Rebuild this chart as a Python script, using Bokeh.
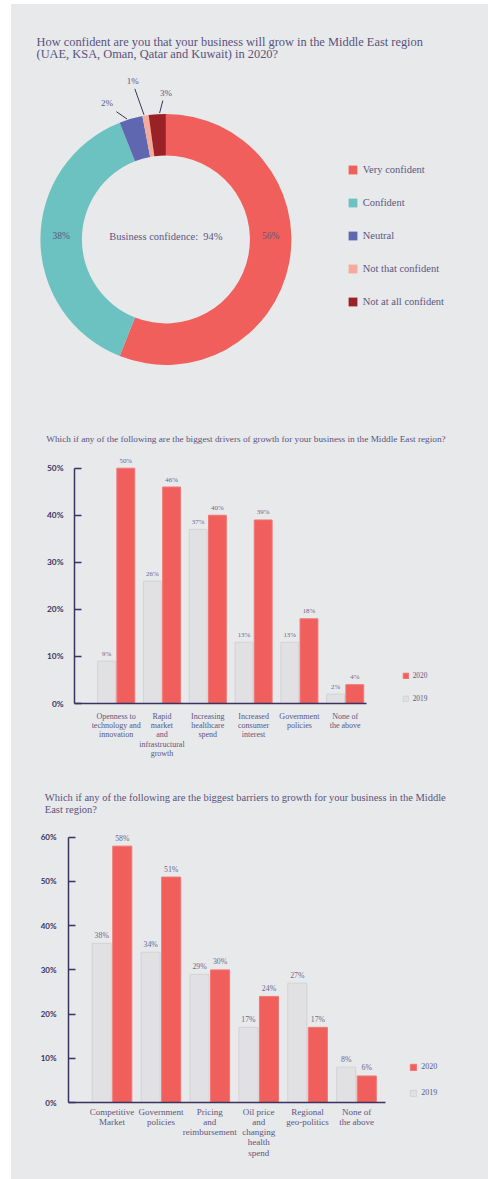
import numpy as np
from bokeh.plotting import figure
from bokeh.models import (Range1d, FixedTicker, PrintfTickFormatter, Title, Legend,
                          LegendItem, ColumnDataSource)
from bokeh.layouts import column
from bokeh.embed import file_html
from bokeh.resources import INLINE
from bokeh.core.properties import value

# ---------------- data ----------------
CONF_TITLE = ["How confident are you that your business will grow in the Middle East region",
              "(UAE, KSA, Oman, Qatar and Kuwait) in 2020?"]
CONF_CATS = ["Very confident", "Confident", "Neutral", "Not that confident", "Not at all confident"]
CONF_VALUES = [56, 38, 3, 0.8, 2.2]
CONF_LABELS = ["56%", "38%", "2%", "1%", "3%"]
CONF_CENTER_TEXT = "Business confidence:\u00a0\u00a094%"

DRIVER_TITLE = ("Which if any of the following are the biggest drivers of growth for your "
                "business in the Middle East region?")
DRIVER_CATS = ["Openness to\ntechnology and\ninnovation",
               "Rapid\nmarket\nand\ninfrastructural\ngrowth",
               "Increasing\nhealthcare\nspend",
               "Increased\nconsumer\ninterest",
               "Government\npolicies",
               "None of\nthe above"]
DRIVER_2019 = [9, 26, 37, 13, 13, 2]
DRIVER_2020 = [50, 46, 40, 39, 18, 4]
DRIVER_TICKS = [0, 10, 20, 30, 40, 50]

BARRIER_TITLE = ("Which if any of the following are the biggest barriers to growth for your business in the Middle\n"
                 "East region?")
BARRIER_CATS = ["Competitive\nMarket",
                "Government\npolicies",
                "Pricing\nand\nreimbursement",
                "Oil price\nand\nchanging\nhealth\nspend",
                "Regional\ngeo-politics",
                "None of\nthe above"]
BARRIER_2019 = [36, 34, 29, 17, 27, 8]
BARRIER_2019_LABELS = ["38%", "34%", "29%", "17%", "27%", "8%"]
BARRIER_2020 = [58, 51, 30, 24, 17, 6]
BARRIER_TICKS = [0, 10, 20, 30, 40, 50, 60]

SERIES = ["2019", "2020"]

# ---------------- style ----------------
BG = "#e8e9eb"
TITLE_C = "#58527d"
NAVY = "#3a3360"
TXT = "#5c567f"
VAL_C = "#6d688c"
RED = "#f05f5c"
RED_LINE = "#f17774"
GRAY_BAR = "#e1e1e3"
GRAY_LINE = "#d3d3d7"
CONF_COLORS = ["#f05f5c", "#6bc2c1", "#5f67b1", "#f5aa9c", "#9a2226"]
SERIF = "Liberation Serif"
SANS = "Lato"
W = 477


def base_fig(h, xr, yr, **kw):
    p = figure(width=W, height=h, x_range=xr, y_range=yr, output_backend="svg",
               toolbar_location=None, **kw)
    p.background_fill_color = BG
    p.border_fill_color = BG
    p.outline_line_color = None
    p.grid.visible = False
    if "frame_align" in p.properties():
        p.frame_align = False
    return p


# ================= donut =================
H1 = 396
p1 = base_fig(H1, Range1d(11, 488), Range1d(-400, -4), min_border=0,
              x_axis_location=None, y_axis_location=None)
cx, cy = 165.4, -238.9
r_in, r_out = 84.0, 125.5

vals = np.array(CONF_VALUES, dtype=float)
frac = vals / vals.sum()
cum = np.concatenate([[0.0], np.cumsum(frac)])
start = np.pi / 2 - 2 * np.pi * cum[:-1]
end = np.pi / 2 - 2 * np.pi * cum[1:]
mid_cw = 2 * np.pi * (cum[:-1] + cum[1:]) / 2  # clockwise from top
dsrc = ColumnDataSource(dict(start=start, end=end, color=CONF_COLORS, cat=CONF_CATS))
wr = p1.annular_wedge(x=cx, y=cy, inner_radius=r_in, outer_radius=r_out,
                      start_angle="start", end_angle="end", direction="clock",
                      fill_color="color", line_color=None, source=dsrc)

p1.text(x=[36, 36], y=[-41.5, -53.3], text=CONF_TITLE, text_font=value(SERIF),
        text_font_size="12.4px", text_color=TITLE_C, text_baseline="middle", text_align="left")
p1.text(x=[cx], y=[cy + 3], text=[CONF_CENTER_TEXT], text_font=value(SERIF),
        text_font_size="10.5px", text_color=TXT, text_baseline="middle", text_align="center")

# big slice labels on the ring
r_mid = (r_in + r_out) / 2
big_x = [cx + r_mid * np.sign(np.sin(mid_cw[i])) for i in range(2)]
p1.text(x=big_x, y=[cy + 3] * 2, text=CONF_LABELS[:2], text_font=value(SERIF),
        text_font_size="9.5px", text_color=TXT, text_baseline="middle", text_align="center")

# small slice labels with leader lines:
# (start angle shift, line-end angle shift, line-end radius, label angle shift, label radius)
LEADER = {2: (-1.7, -5.0, 137.0, -7.1, 148.6),
          3: (-0.6, -2.3, 153.7, -2.4, 162.3),
          4: (1.1, 2.7, 138.9, 4.0, 146.9)}
x0s, y0s, x1s, y1s, lx, ly, lt = [], [], [], [], [], [], []
for i, (s0, s1, rl, sl, rlab) in LEADER.items():
    a0 = mid_cw[i] + np.radians(s0)
    a1 = mid_cw[i] + np.radians(s1)
    al = mid_cw[i] + np.radians(sl)
    x0s.append(cx + 126.5 * np.sin(a0)); y0s.append(cy + 126.5 * np.cos(a0))
    x1s.append(cx + rl * np.sin(a1)); y1s.append(cy + rl * np.cos(a1))
    lx.append(cx + rlab * np.sin(al)); ly.append(cy + rlab * np.cos(al))
    lt.append(CONF_LABELS[i])
p1.segment(x0=x0s, y0=y0s, x1=x1s, y1=y1s, line_color=NAVY, line_width=1)
p1.text(x=lx, y=ly, text=lt, text_font=value(SERIF), text_font_size="9px",
        text_color=TXT, text_baseline="middle", text_align="center")

leg1 = Legend(items=[LegendItem(label=c, renderers=[wr], index=i) for i, c in enumerate(CONF_CATS)],
              location=(335.7, 92.8), glyph_width=11, glyph_height=11, label_height=11,
              label_text_font=SERIF, label_text_font_size="10.5px", label_text_color=TXT,
              label_standoff=5, spacing=22, padding=0, margin=0,
              border_line_color=None, background_fill_alpha=0)
p1.add_layout(leg1)


# ================= grouped bar helper =================
def bar_chart(h, left, top, bottom, xr, yr, xbounds, ybounds, cats, v19, v20, l19, ticks,
              tick_font, cat_font, cat_lh, cat_standoff, y_standoff, val_font,
              leg_loc, leg_glyph, leg_spacing, leg_font, title, title_font, title_offset,
              title_standoff):
    p = base_fig(h, xr, yr, min_border_left=left, min_border_bottom=bottom,
                 min_border_top=top, min_border_right=0)
    idx = np.arange(len(cats))
    src = ColumnDataSource(dict(x19=idx - 0.21, x20=idx + 0.21, v19=v19, v20=v20,
                                l19=l19, l20=[f"{v}%" for v in v20]))
    r19 = p.vbar(x="x19", top="v19", bottom=0, width=0.39, fill_color=GRAY_BAR,
                 line_color=GRAY_LINE, line_width=1, source=src)
    r20 = p.vbar(x="x20", top="v20", bottom=0, width=0.39, fill_color=RED,
                 line_color=RED_LINE, line_width=1, source=src)
    for xs, ys, ts in (("x19", "v19", "l19"), ("x20", "v20", "l20")):
        p.text(x=xs, y=ys, text=ts, source=src, y_offset=-8, text_align="center",
               text_baseline="middle", text_font=value(SERIF), text_font_size=val_font,
               text_color=VAL_C)

    yax = p.yaxis[0]
    yax.ticker = FixedTicker(ticks=ticks)
    yax.formatter = PrintfTickFormatter(format="%d%%")
    yax.bounds = ybounds
    yax.major_tick_in = 7
    yax.major_tick_out = 0
    yax.minor_tick_line_color = None
    yax.axis_line_color = NAVY
    yax.axis_line_width = 1.5
    yax.major_tick_line_color = NAVY
    yax.major_tick_line_width = 1.5
    yax.major_label_text_font = SANS
    yax.major_label_text_font_style = "bold"
    yax.major_label_text_font_size = tick_font
    yax.major_label_text_color = NAVY
    yax.major_label_standoff = y_standoff

    xax = p.xaxis[0]
    xax.ticker = FixedTicker(ticks=[int(i) for i in idx])
    xax.major_label_overrides = {int(i): c for i, c in zip(idx, cats)}
    xax.bounds = xbounds
    xax.major_tick_line_color = None
    xax.major_tick_in = 0
    xax.major_tick_out = 0
    xax.minor_tick_line_color = None
    xax.axis_line_color = NAVY
    xax.axis_line_width = 1.5
    xax.major_label_text_font = SERIF
    xax.major_label_text_font_size = cat_font
    xax.major_label_text_color = TXT
    xax.major_label_text_line_height = cat_lh
    xax.major_label_standoff = cat_standoff

    leg = Legend(items=[LegendItem(label=SERIES[1], renderers=[r20]),
                        LegendItem(label=SERIES[0], renderers=[r19])],
                 location=leg_loc, glyph_width=leg_glyph, glyph_height=leg_glyph,
                 label_height=leg_glyph, label_text_font=SERIF, label_text_font_size=leg_font,
                 label_text_color=TXT, label_standoff=4, spacing=leg_spacing,
                 padding=0, margin=0, border_line_color=None, background_fill_alpha=0)
    p.add_layout(leg)

    t = Title(text=title, align="left", offset=title_offset, standoff=title_standoff,
              vertical_align="bottom", text_font=SERIF, text_font_size=title_font,
              text_color=TITLE_C, text_font_style="normal", text_line_height=1.12)
    p.add_layout(t, "above")
    return p


# ================= drivers =================
# page: figure top 400, frame top 450, frame bottom (0%) 703, 10% = 47.06 px
H2 = 375
p2 = bar_chart(H2, 63, 50, 72, Range1d(-0.91, 8.13), Range1d(0, 53.76), (-0.91, 5.46), (0, 50),
               DRIVER_CATS, DRIVER_2019, DRIVER_2020, [f"{v}%" for v in DRIVER_2019],
               DRIVER_TICKS, "8.3px", "8px", 1.05, 8, 11, "6.9px",
               (327.7, 0.5), 7, 14, "7.3px", DRIVER_TITLE, "9.25px", -28.3, 13)

# ================= barriers =================
# page: figure top 775, frame top 828, frame bottom (0%) 1102, 10% = 44.2 px
H3 = 404
p3 = bar_chart(H3, 57, 53, 77, Range1d(-0.8896, 7.699), Range1d(0, 61.99), (-0.8896, 5.59), (0, 60),
               BARRIER_CATS, BARRIER_2019, BARRIER_2020, BARRIER_2019_LABELS,
               BARRIER_TICKS, "8px", "9px", 1.03, 4, 12, "7.8px",
               (341.3, 4.7), 8, 17, "8px", BARRIER_TITLE, "10.5px", -23.7, 26)

layout = column(p1, p2, p3, spacing=0, margin=(4, 0, 0, 11),
                styles={"background-color": BG})
open("out.html", "w").write(file_html(layout, INLINE))
